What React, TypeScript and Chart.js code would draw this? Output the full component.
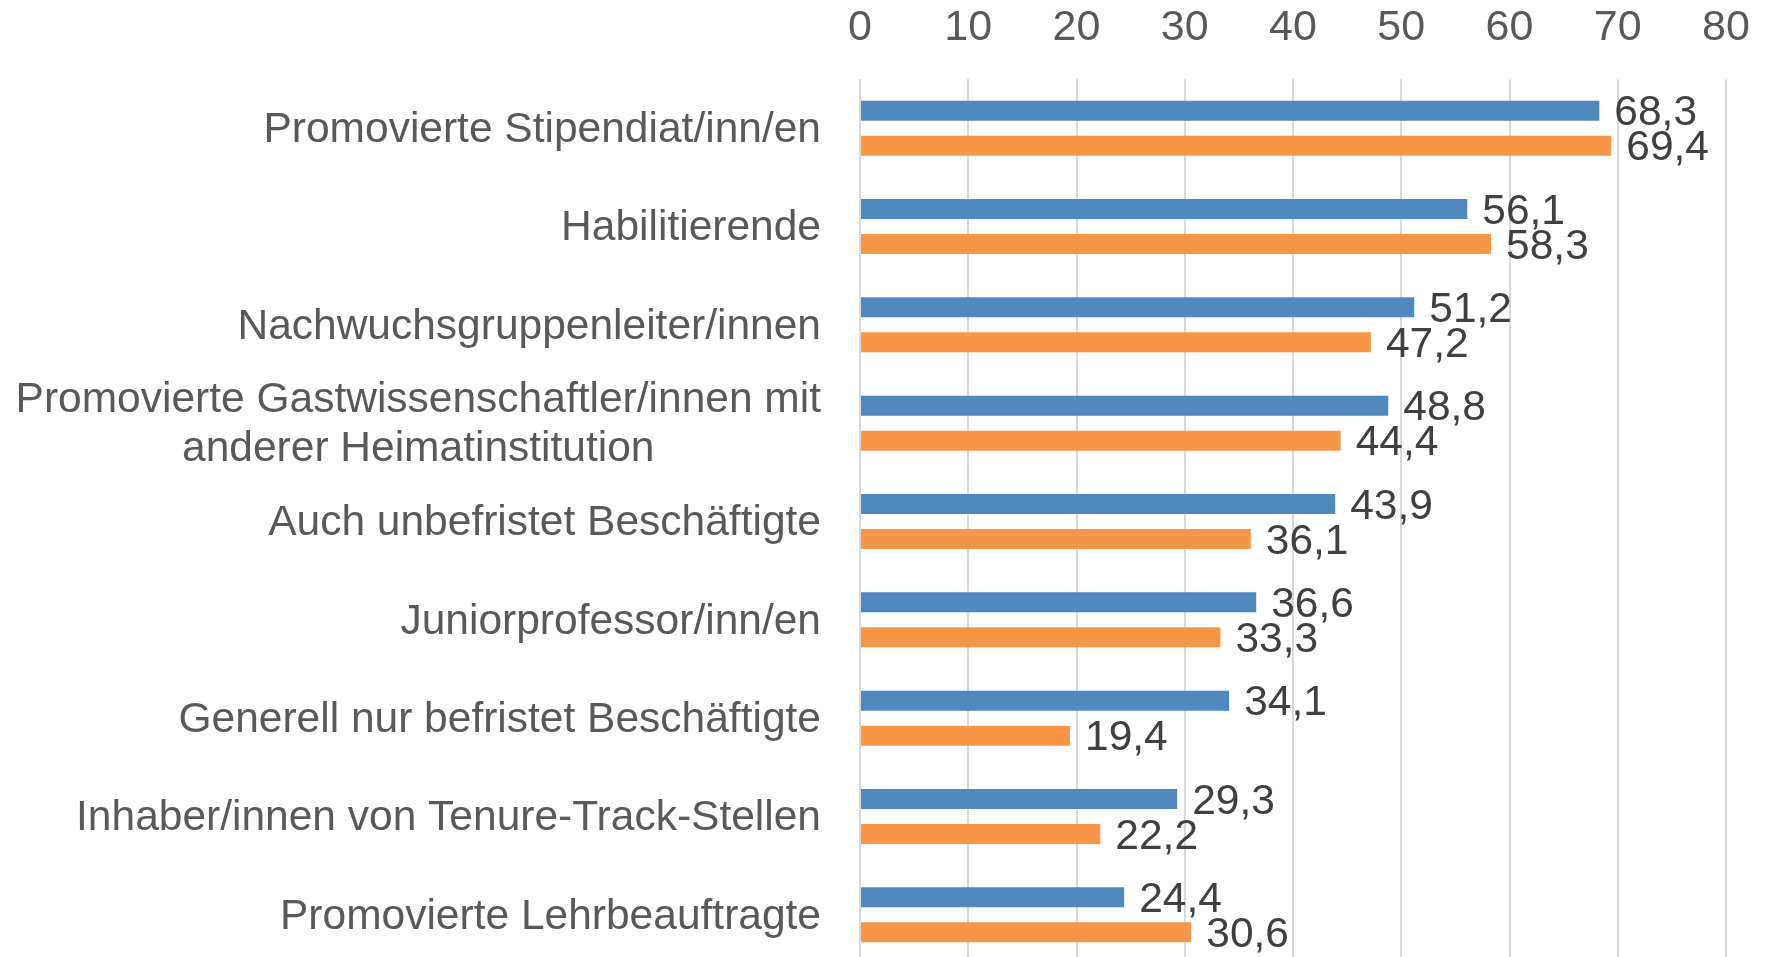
import React, { useEffect, useRef } from "react";
import { Chart, registerables } from "chart.js";

Chart.register(...registerables);

const categories: (string | string[])[] = [
  "Promovierte Stipendiat/inn/en",
  "Habilitierende",
  "Nachwuchsgruppenleiter/innen",
  ["Promovierte Gastwissenschaftler/innen mit", "anderer Heimatinstitution"],
  "Auch unbefristet Beschäftigte",
  "Juniorprofessor/inn/en",
  "Generell nur befristet Beschäftigte",
  "Inhaber/innen von Tenure-Track-Stellen",
  "Promovierte Lehrbeauftragte",
];
const seriesBlue = [68.3, 56.1, 51.2, 48.8, 43.9, 36.6, 34.1, 29.3, 24.4];
const seriesOrange = [69.4, 58.3, 47.2, 44.4, 36.1, 33.3, 19.4, 22.2, 30.6];
const xMin = 0;
const xMax = 80;
const xStep = 10;

const FONT = "'Liberation Sans', Arial, sans-serif";

const labelsPlugin = {
  id: "customLabels",
  afterDatasetsDraw(chart: any) {
    const ctx = chart.ctx;
    ctx.save();
    // value labels
    ctx.font = `42.5px ${FONT}`;
    ctx.fillStyle = "#404040";
    ctx.textAlign = "left";
    ctx.textBaseline = "middle";
    chart.data.datasets.forEach((ds: any, di: number) => {
      const meta = chart.getDatasetMeta(di);
      meta.data.forEach((bar: any, i: number) => {
        const v = ds.data[i] as number;
        const txt = v.toFixed(1).replace(".", ",");
        ctx.fillText(txt, bar.x + 15, bar.y + 3);
      });
    });
    // category labels
    const yScale = chart.scales.y;
    ctx.fillStyle = "#595959";
    const right = chart.chartArea.left - 39;
    const lineH = 49;
    categories.forEach((c, i) => {
      const yc = yScale.getPixelForValue(i);
      const lines = Array.isArray(c) ? c : [c];
      const widths = lines.map((l) => ctx.measureText(l).width);
      const maxW = Math.max(...widths);
      const cx = right - maxW / 2;
      ctx.textAlign = "center";
      lines.forEach((l, li) => {
        const y = yc + (li - (lines.length - 1) / 2) * lineH + 2;
        ctx.fillText(l, cx, y);
      });
    });
    ctx.restore();
  },
};

export default function App() {
  const ref = useRef<HTMLCanvasElement | null>(null);
  useEffect(() => {
    document.body.style.margin = "0";
    document.body.style.overflow = "hidden";
    if (!ref.current) return;
    const chart = new Chart(ref.current, {
      type: "bar",
      data: {
        labels: categories.map((c) => (Array.isArray(c) ? c.join(" ") : c)),
        datasets: [
          {
            label: "A",
            data: seriesBlue,
            backgroundColor: "#4F89BD",
            categoryPercentage: 0.712,
            barPercentage: 0.57,
          },
          {
            label: "B",
            data: seriesOrange,
            backgroundColor: "#F79646",
            categoryPercentage: 0.712,
            barPercentage: 0.57,
          },
        ],
      },
      options: {
        indexAxis: "y",
        animation: false,
        responsive: false,
        maintainAspectRatio: false,
        layout: { padding: { top: 0, right: 43, bottom: 0, left: 0 } },
        plugins: {
          legend: { display: false },
          tooltip: { enabled: false },
        },
        scales: {
          x: {
            position: "top",
            min: xMin,
            max: xMax,
            ticks: {
              stepSize: xStep,
              color: "#595959",
              font: { family: FONT, size: 43 },
              padding: 25,
            },
            grid: {
              color: "#D9D9D9",
              lineWidth: 2,
              drawTicks: false,
            },
            border: { display: false },
            afterFit: (s: any) => {
              s.height = 79;
              s.paddingLeft = 0;
              s.paddingRight = 0;
            },
          },
          y: {
            ticks: { display: false },
            grid: { display: false },
            border: { display: false },
            afterFit: (s: any) => {
              s.width = 860;
            },
          },
        },
      },
      plugins: [labelsPlugin],
    });
    return () => chart.destroy();
  }, []);
  return (
    <div style={{ position: "fixed", left: 0, top: 0, width: 1769, height: 964 }}>
      <canvas ref={ref} width={1769} height={964} style={{ display: "block" }} />
    </div>
  );
}
